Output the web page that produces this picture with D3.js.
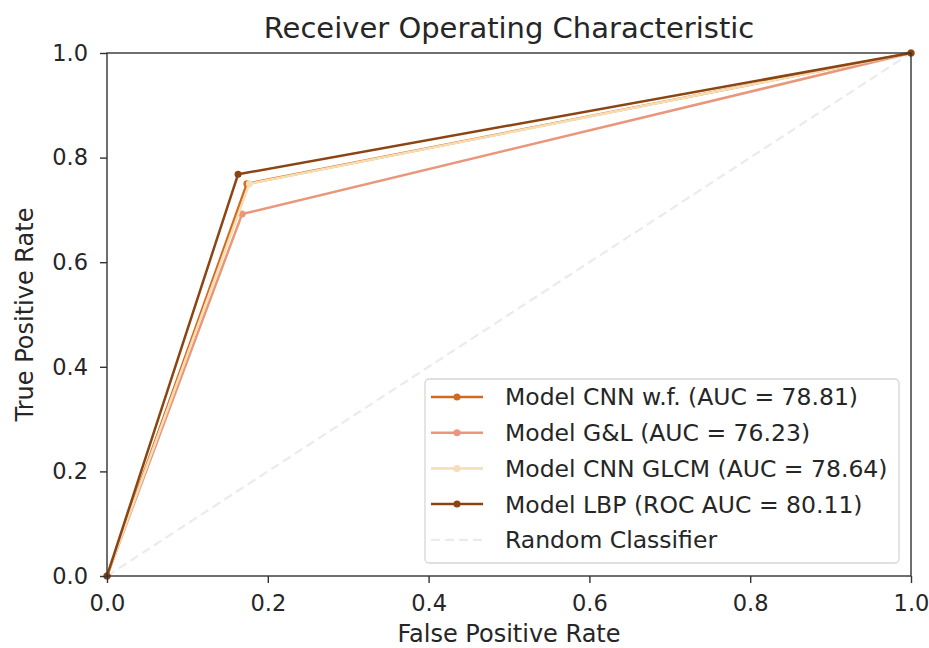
<!DOCTYPE html>
<html>
<head>
<meta charset="utf-8">
<script src="https://cdn.jsdelivr.net/npm/d3@7"></script>
<style>
  body { margin: 0; background: #fff; }
  svg { font-family: "DejaVu Sans", sans-serif; }
</style>
</head>
<body>
<div class="container"></div>
<script>
const width = 929;
const height = 648;
const margin = { top: 53, right: 18, bottom: 72, left: 107 };

// series: each ROC curve has three points (0,0) -> knee -> (1,1)
const seriesNames = [
    'Model CNN w.f. (AUC = 78.81)',
    'Model G&L (AUC = 76.23)',
    'Model CNN GLCM (AUC = 78.64)',
    'Model LBP (ROC AUC = 80.11)',
];
const seriesColors = ['chocolate', 'darksalmon', 'wheat', 'saddlebrown'];
const fprValues = [
    [0, 0.174, 1],
    [0, 0.168, 1],
    [0, 0.177, 1],
    [0, 0.163, 1],
];
const tprValues = [
    [0, 0.750, 1],
    [0, 0.692, 1],
    [0, 0.750, 1],
    [0, 0.768, 1],
];
const randomLabel = 'Random Classifier';
const randomX = [0, 1];
const randomY = [0, 1];
const tickValues = [0, 0.2, 0.4, 0.6, 0.8, 1.0];

const textColor = '#262626';
const randomColor = '#ebebeb';

const svg = d3.select('.container')
    .append('svg')
    .attr('width', width)
    .attr('height', height);

const x = d3.scaleLinear().domain([0, 1]).range([margin.left, width - margin.right]);
const y = d3.scaleLinear().domain([0, 1]).range([height - margin.bottom, margin.top]);

const line = d3.line().x(d => x(d[0])).y(d => y(d[1]));

// random classifier diagonal
svg.append('path')
    .attr('d', line(randomX.map((v, i) => [v, randomY[i]])))
    .attr('fill', 'none')
    .attr('stroke', randomColor)
    .attr('stroke-width', 2.2)
    .attr('stroke-dasharray', '9,5');

// plotted in the same order as the legend, so later curves sit on top
seriesNames.forEach((name, i) => {
    const pts = fprValues[i].map((v, j) => [v, tprValues[i][j]]);
    const g = svg.append('g');
    g.append('path')
        .attr('d', line(pts))
        .attr('fill', 'none')
        .attr('stroke', seriesColors[i])
        .attr('stroke-width', 2.5)
        .attr('stroke-linejoin', 'round');
    g.selectAll('circle')
        .data(pts)
        .enter()
        .append('circle')
        .attr('cx', d => x(d[0]))
        .attr('cy', d => y(d[1]))
        .attr('r', 3.5)
        .attr('fill', seriesColors[i]);
});

// axes
const xAxis = svg.append('g')
    .attr('transform', `translate(0,${height - margin.bottom})`)
    .call(d3.axisBottom(x).tickValues(tickValues).tickFormat(d3.format('.1f')).tickSize(7).tickPadding(12));
const yAxis = svg.append('g')
    .attr('transform', `translate(${margin.left},0)`)
    .call(d3.axisLeft(y).tickValues(tickValues).tickFormat(d3.format('.1f')).tickSize(7).tickPadding(12));
[xAxis, yAxis].forEach(a => {
    a.select('.domain').remove();
    a.selectAll('text').attr('font-size', 22.5).attr('fill', textColor).attr('font-family', '"DejaVu Sans", sans-serif');
    a.selectAll('line').attr('stroke', '#333').attr('stroke-width', 1.4);
});

// frame
svg.append('rect')
    .attr('x', x(0))
    .attr('y', y(1))
    .attr('width', x(1) - x(0))
    .attr('height', y(0) - y(1))
    .attr('fill', 'none')
    .attr('stroke', '#333')
    .attr('stroke-width', 1.4);

// title and axis labels
svg.append('text')
    .attr('x', (x(0) + x(1)) / 2)
    .attr('y', 38)
    .attr('text-anchor', 'middle')
    .attr('font-size', 29)
    .attr('fill', textColor)
    .text('Receiver Operating Characteristic');
svg.append('text')
    .attr('x', (x(0) + x(1)) / 2)
    .attr('y', 642)
    .attr('text-anchor', 'middle')
    .attr('font-size', 24)
    .attr('fill', textColor)
    .text('False Positive Rate');
svg.append('text')
    .attr('transform', `translate(33,${(y(0) + y(1)) / 2}) rotate(-90)`)
    .attr('text-anchor', 'middle')
    .attr('font-size', 24)
    .attr('fill', textColor)
    .text('True Positive Rate');

// legend
const legend = svg.append('g').attr('transform', 'translate(425,379)');
legend.append('rect')
    .attr('width', 474)
    .attr('height', 184)
    .attr('rx', 4)
    .attr('fill', '#fff')
    .attr('fill-opacity', 0.8)
    .attr('stroke', '#d6d6d6')
    .attr('stroke-width', 1.3);
const rowGap = 35.7;
seriesNames.forEach((name, i) => {
    const ry = 18 + i * rowGap;
    legend.append('line')
        .attr('x1', 6).attr('x2', 58)
        .attr('y1', ry).attr('y2', ry)
        .attr('stroke', seriesColors[i])
        .attr('stroke-width', 2.5);
    legend.append('circle')
        .attr('cx', 32).attr('cy', ry).attr('r', 3.5)
        .attr('fill', seriesColors[i]);
    legend.append('text')
        .attr('x', 80).attr('y', ry)
        .attr('dy', '0.36em')
        .attr('font-size', 23.5)
        .attr('fill', textColor)
        .text(name);
});
const rry = 18 + 4 * rowGap;
legend.append('line')
    .attr('x1', 6).attr('x2', 58)
    .attr('y1', rry).attr('y2', rry)
    .attr('stroke', randomColor)
    .attr('stroke-width', 2.2)
    .attr('stroke-dasharray', '9,5');
legend.append('text')
    .attr('x', 80).attr('y', rry)
    .attr('dy', '0.36em')
    .attr('font-size', 23.5)
    .attr('fill', textColor)
    .text(randomLabel);
</script>
</body>
</html>
